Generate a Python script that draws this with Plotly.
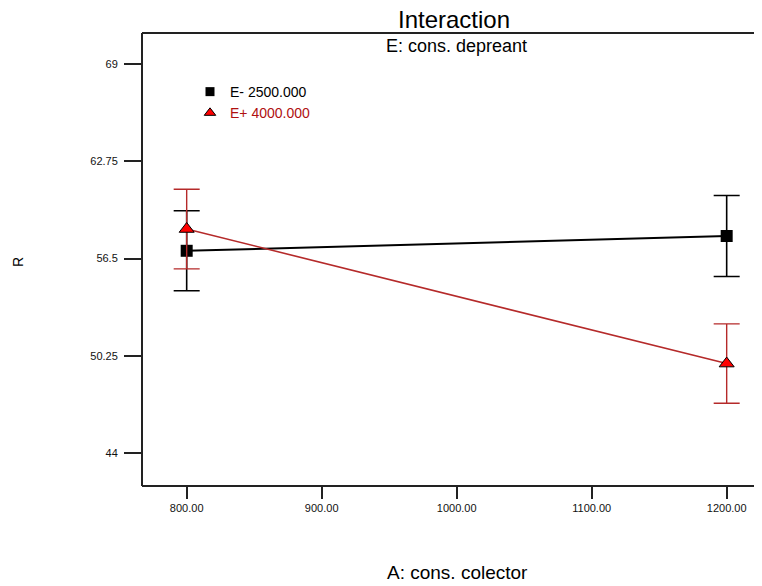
import plotly.graph_objects as go

# ---- data ----
x_levels = [800, 1200]
low_name = "E- 2500.000"
high_name = "E+ 4000.000"
r_low = [57.0, 57.95]
r_low_err = [2.57, 2.6]
r_high = [58.4, 49.75]
r_high_err = [2.56, 2.55]

x_tickvals = [800, 900, 1000, 1100, 1200]
x_ticktext = ["800.00", "900.00", "1000.00", "1100.00", "1200.00"]
y_tickvals = [44, 50.25, 56.5, 62.75, 69]
y_ticktext = ["44", "50.25", "56.5", "62.75", "69"]

BLACK = "#000000"
RED_LINE = "#b52a2a"
RED_TEXT = "#b01010"
FONT = "Liberation Sans, Arial, sans-serif"

fig = go.Figure()

fig.add_trace(go.Scatter(
    x=x_levels, y=r_low, mode="lines+markers", showlegend=False,
    line=dict(color=BLACK, width=2),
    marker=dict(symbol="square", size=12, color=BLACK),
    error_y=dict(type="data", array=r_low_err, visible=True, color=BLACK,
                 thickness=1.6, width=13),
))
fig.add_trace(go.Scatter(
    x=x_levels, y=r_high, mode="lines+markers", showlegend=False,
    line=dict(color=RED_LINE, width=1.6),
    marker=dict(symbol="triangle-up", size=13, color="#ff0000",
                line=dict(color=BLACK, width=1)),
    error_y=dict(type="data", array=r_high_err, visible=True, color=RED_LINE,
                 thickness=1.4, width=13),
))

# legend-only entries (markers only)
fig.add_trace(go.Scatter(
    x=[None], y=[None], mode="markers", name=low_name,
    marker=dict(symbol="square", size=9, color=BLACK),
))
fig.add_trace(go.Scatter(
    x=[None], y=[None], mode="markers",
    name=f"<span style='color:{RED_TEXT}'>{high_name}</span>",
    marker=dict(symbol="triangle-up", size=10, color="#ff0000",
                line=dict(color=BLACK, width=1)),
))

PW = 620  # plot-area width in px (runs to the right edge of the window)
frame = dict(color="#222", width=2)
fig.update_layout(
    width=754, height=578,
    margin=dict(l=134, r=754 - 134 - PW, t=25, b=100),
    paper_bgcolor="white", plot_bgcolor="white",
    font=dict(family=FONT, color=BLACK),
    showlegend=True,
    legend=dict(x=(190 - 142) / PW, y=0.905, xanchor="left", yanchor="top",
                bgcolor="rgba(0,0,0,0)", font=dict(size=14, color=BLACK),
                tracegroupgap=0, itemsizing="trace"),
    xaxis=dict(range=[766.9, 766.9 + PW / 1.35], tickvals=x_tickvals, ticktext=x_ticktext,
               showgrid=False, zeroline=False, showline=False, mirror=False,
               ticks="outside", ticklen=12, tickwidth=2,
               tickcolor="#222", tickfont=dict(size=11, color="#111")),
    yaxis=dict(range=[41.88, 71.0], tickvals=y_tickvals, ticktext=y_ticktext,
               showgrid=False, zeroline=False, showline=False, mirror=False,
               ticks="outside", ticklen=17, tickwidth=2,
               tickcolor="#222", tickfont=dict(size=11, color="#111"),
               ticklabelstandoff=4),
    shapes=[
        dict(type="line", xref="paper", yref="paper", x0=0, x1=1, y0=1, y1=1, line=frame),
        dict(type="line", xref="paper", yref="paper", x0=0, x1=1, y0=0, y1=0, line=frame),
        dict(type="line", xref="paper", yref="paper", x0=0, x1=0, y0=0, y1=1, line=frame),
    ],
    annotations=[
        dict(text="Interaction", xref="paper", yref="paper",
             x=(454 - 142) / PW, y=1 + (33 - 19.5) / 453, xanchor="center",
             yanchor="middle", showarrow=False, font=dict(size=24, color=BLACK)),
        dict(text="E: cons. depreant", xref="paper", yref="paper",
             x=(456 - 142) / PW, y=1 - (46 - 33) / 453, xanchor="center",
             yanchor="middle", showarrow=False, font=dict(size=18, color=BLACK)),
        dict(text="A: cons. colector", xref="paper", yref="paper",
             x=(457 - 142) / PW, y=-(572 - 486) / 453, xanchor="center",
             yanchor="middle", showarrow=False, font=dict(size=19, color=BLACK)),
        dict(text="R", xref="paper", yref="paper",
             x=-(142 - 18) / PW, y=(486 - 262) / 453, xanchor="center",
             yanchor="middle", showarrow=False, textangle=-90,
             font=dict(size=14, color=BLACK)),
    ],
)

fig.write_html("out.html")
